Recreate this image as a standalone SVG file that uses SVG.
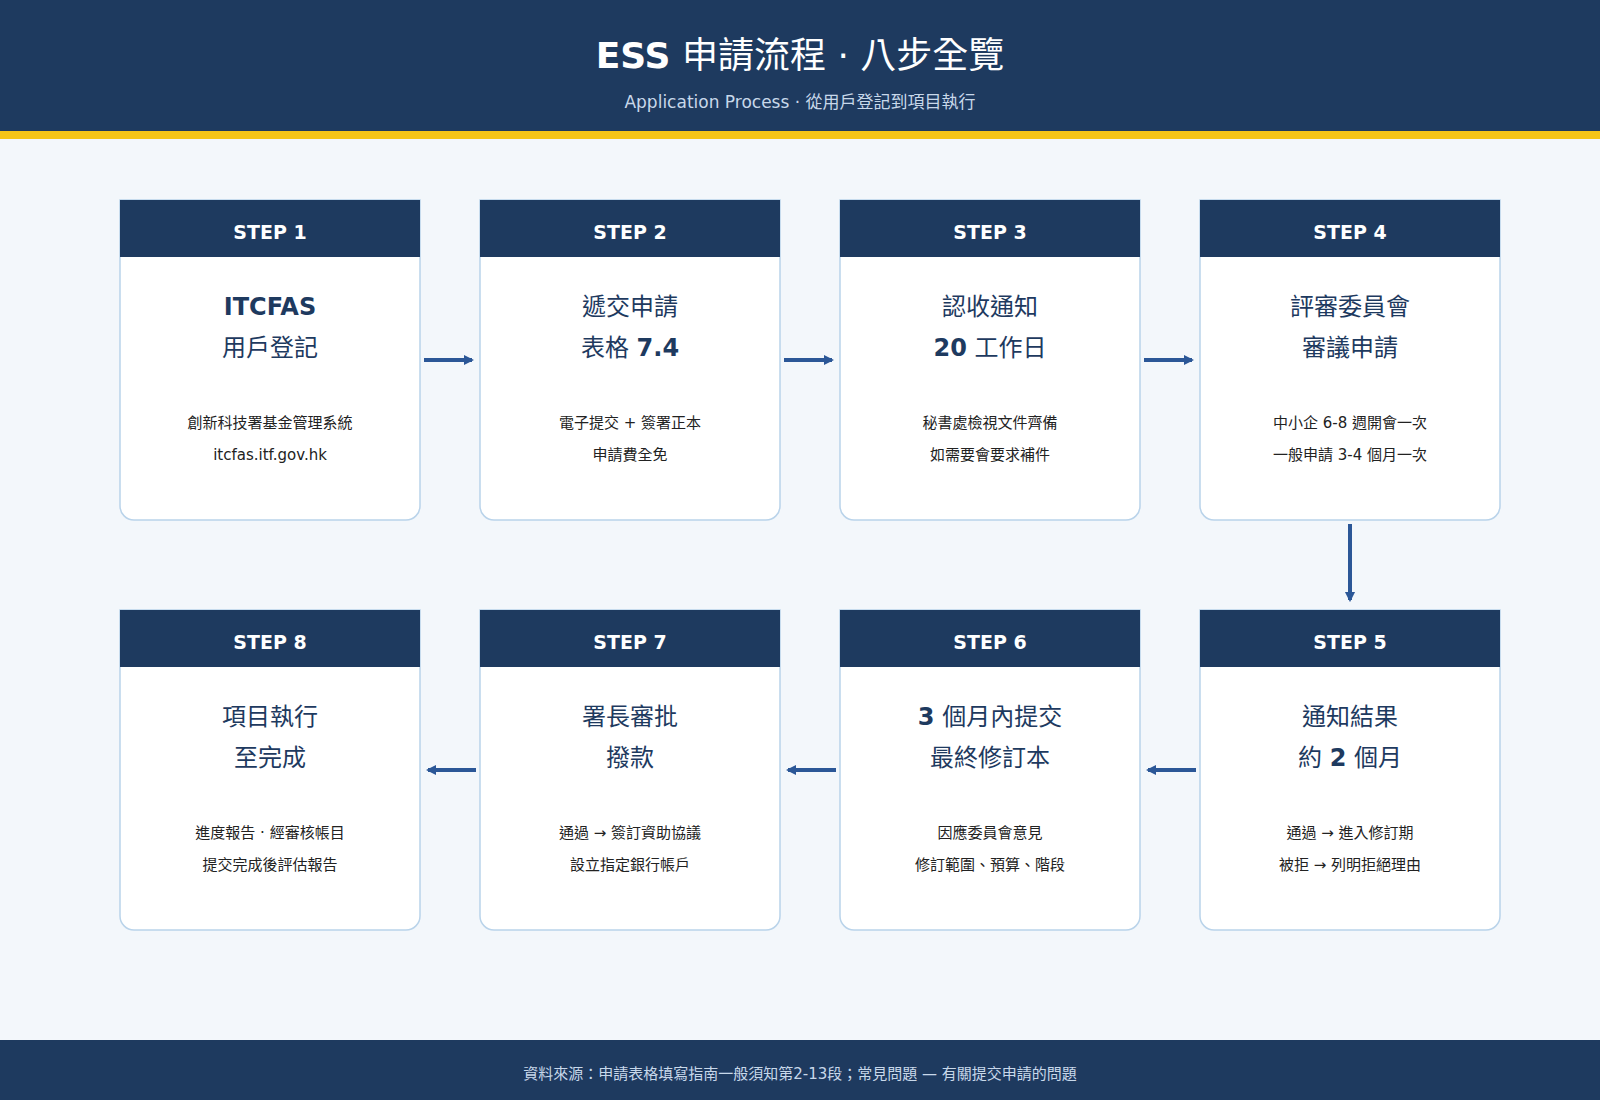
<svg xmlns="http://www.w3.org/2000/svg" width="1600" height="1100" viewBox="0 0 1600 1100">
<defs>
<style>
text{font-family:"DejaVu Sans","Noto Sans CJK TC",sans-serif;text-anchor:middle}
.card{fill:#fff;stroke:#b9d3ea;stroke-width:1.5}
.hd{fill:#1e3a5f}
.step{fill:#fff;font-size:19px;font-weight:bold}
.t{fill:#1e3a5f;font-size:24px}
.b{font-weight:bold}
.d{fill:#222;font-size:15px}
.conn{stroke:#2b5797;stroke-width:4;fill:none;marker-end:url(#ah)}
</style>
<marker id="ah" viewBox="0 0 10 10" refX="8" refY="5" markerWidth="2.6" markerHeight="6.5" orient="auto" markerUnits="strokeWidth"><path d="M0,0L10,5L0,10z" fill="#2b5797"/></marker>
</defs>
<rect width="1600" height="1100" fill="#f3f7fb"/>
<rect width="1600" height="131" fill="#1e3a5f"/>
<rect y="131" width="1600" height="8" fill="#f5c518"/>
<text x="800" y="68" fill="#fff" font-size="36"><tspan font-weight="bold">ESS</tspan> 申請流程 · 八步全覽</text>
<text x="800" y="108" fill="#c8d8ea" font-size="17">Application Process · 從用戶登記到項目執行</text>
<rect y="1040" width="1600" height="60" fill="#1e3a5f"/>
<text x="800" y="1079" fill="#c8d8ea" font-size="15">資料來源：申請表格填寫指南一般須知第2-13段；常見問題 — 有關提交申請的問題</text>

<g id="step1"><path class="card" d="M120,200H420V506a14,14 0 0 1 -14,14H134a14,14 0 0 1 -14,-14Z"/><rect class="hd" x="120" y="200" width="300" height="57"/>
<text class="step" x="270" y="239">STEP 1</text><text class="t b" x="270" y="315">ITCFAS</text><text class="t" x="270" y="356">用戶登記</text>
<text class="d" x="270" y="428">創新科技署基金管理系統</text><text class="d" x="270" y="460">itcfas.itf.gov.hk</text></g>
<g id="step2"><path class="card" d="M480,200H780V506a14,14 0 0 1 -14,14H494a14,14 0 0 1 -14,-14Z"/><rect class="hd" x="480" y="200" width="300" height="57"/>
<text class="step" x="630" y="239">STEP 2</text><text class="t" x="630" y="315">遞交申請</text><text class="t" x="630" y="356">表格 <tspan class="b">7.4</tspan></text>
<text class="d" x="630" y="428">電子提交 + 簽署正本</text><text class="d" x="630" y="460">申請費全免</text></g>
<g id="step3"><path class="card" d="M840,200H1140V506a14,14 0 0 1 -14,14H854a14,14 0 0 1 -14,-14Z"/><rect class="hd" x="840" y="200" width="300" height="57"/>
<text class="step" x="990" y="239">STEP 3</text><text class="t" x="990" y="315">認收通知</text><text class="t" x="990" y="356"><tspan class="b">20</tspan> 工作日</text>
<text class="d" x="990" y="428">秘書處檢視文件齊備</text><text class="d" x="990" y="460">如需要會要求補件</text></g>
<g id="step4"><path class="card" d="M1200,200H1500V506a14,14 0 0 1 -14,14H1214a14,14 0 0 1 -14,-14Z"/><rect class="hd" x="1200" y="200" width="300" height="57"/>
<text class="step" x="1350" y="239">STEP 4</text><text class="t" x="1350" y="315">評審委員會</text><text class="t" x="1350" y="356">審議申請</text>
<text class="d" x="1350" y="428">中小企 6-8 週開會一次</text><text class="d" x="1350" y="460">一般申請 3-4 個月一次</text></g>

<g id="step8"><path class="card" d="M120,610H420V916a14,14 0 0 1 -14,14H134a14,14 0 0 1 -14,-14Z"/><rect class="hd" x="120" y="610" width="300" height="57"/>
<text class="step" x="270" y="649">STEP 8</text><text class="t" x="270" y="725">項目執行</text><text class="t" x="270" y="766">至完成</text>
<text class="d" x="270" y="838">進度報告 · 經審核帳目</text><text class="d" x="270" y="870">提交完成後評估報告</text></g>
<g id="step7"><path class="card" d="M480,610H780V916a14,14 0 0 1 -14,14H494a14,14 0 0 1 -14,-14Z"/><rect class="hd" x="480" y="610" width="300" height="57"/>
<text class="step" x="630" y="649">STEP 7</text><text class="t" x="630" y="725">署長審批</text><text class="t" x="630" y="766">撥款</text>
<text class="d" x="630" y="838">通過 → 簽訂資助協議</text><text class="d" x="630" y="870">設立指定銀行帳戶</text></g>
<g id="step6"><path class="card" d="M840,610H1140V916a14,14 0 0 1 -14,14H854a14,14 0 0 1 -14,-14Z"/><rect class="hd" x="840" y="610" width="300" height="57"/>
<text class="step" x="990" y="649">STEP 6</text><text class="t" x="990" y="725"><tspan class="b">3</tspan> 個月內提交</text><text class="t" x="990" y="766">最終修訂本</text>
<text class="d" x="990" y="838">因應委員會意見</text><text class="d" x="990" y="870">修訂範圍、預算、階段</text></g>
<g id="step5"><path class="card" d="M1200,610H1500V916a14,14 0 0 1 -14,14H1214a14,14 0 0 1 -14,-14Z"/><rect class="hd" x="1200" y="610" width="300" height="57"/>
<text class="step" x="1350" y="649">STEP 5</text><text class="t" x="1350" y="725">通知結果</text><text class="t" x="1350" y="766">約 <tspan class="b">2</tspan> 個月</text>
<text class="d" x="1350" y="838">通過 → 進入修訂期</text><text class="d" x="1350" y="870">被拒 → 列明拒絕理由</text></g>

<g id="connectors">
<path class="conn" d="M424,360H472"/>
<path class="conn" d="M784,360H832"/>
<path class="conn" d="M1144,360H1192"/>
<path class="conn" d="M1350,524V600"/>
<path class="conn" d="M1196,770H1148"/>
<path class="conn" d="M836,770H788"/>
<path class="conn" d="M476,770H428"/>
</g>
</svg>
